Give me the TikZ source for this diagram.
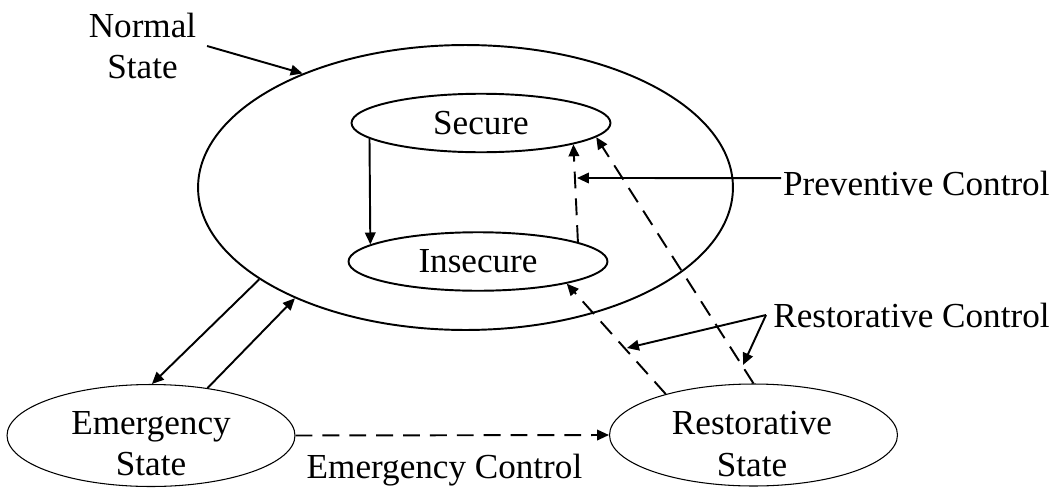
\documentclass[tikz,border=0pt]{standalone}
\usepackage{fontspec}
\setmainfont{Liberation Serif}
\usetikzlibrary{arrows.meta,shapes.geometric,positioning}
\newcommand{\diagfont}{\fontsize{20}{23.5}\selectfont}
\tikzset{
  % big normal-state ellipse
  bigstate/.style={ellipse, draw, line width=1.1pt, minimum width=10.7cm, minimum height=5.7cm, inner sep=0pt},
  % secure / insecure ellipse
  innerstate/.style={ellipse, draw, line width=1.1pt, minimum width=5.18cm, minimum height=1.17cm,
                     inner sep=0pt, font=\diagfont},
  % emergency / restorative ellipse (thin)
  outerstate/.style={ellipse, draw, line width=0.6pt, minimum width=5.76cm, minimum height=2.04cm, inner sep=0pt},
  % text label
  lbl/.style={font=\diagfont, align=center, inner sep=4pt},
  % solid arrow
  arr/.style={-{Triangle[length=6.8pt,width=6pt]}, line width=1.1pt},
  % dashed arrow
  dasharr/.style={arr, dash pattern=on 9.6pt off 5.7pt},
}

\begin{document}
\begin{tikzpicture}[x=0.02cm, y=-0.02cm]
  \useasboundingbox (0,0) rectangle (1064,490);

  % states
  \node[bigstate] (normal) at (465.5,187.5) {};
  \node[innerstate] (secure) at (481,123) {Secure};
  \node[innerstate] (insecure) at (478,261.5) {Insecure};
  \node[outerstate] (emerg) at (151,435.5) {};
  \node[outerstate] (restor) at (753.5,435) {};
  \node[lbl] (emergtxt) at (151,444) {Emergency\\State};
  \node[lbl] (restortxt) at (752,444) {Restorative\\State};

  % labels
  \node[lbl, inner sep=6pt] (normtxt) at (142.5,46) {Normal\\State};
  \node[lbl, anchor=west, inner sep=1pt] (prevtxt) at (781,183) {Preventive Control};
  \node[lbl, anchor=west] (restctrl) at (766,315) {Restorative Control};
  \node[lbl] (emctrl) at (444.5,470) {Emergency Control};

  % arrow ends on the dashed lines
  \coordinate (pvtip) at (577,178);
  \coordinate (rctipA) at (627,348);
  \coordinate (rctipB) at (743,365);

  % solid transitions
  \draw[arr] (secure.188.4) -- (insecure.171.2);
  \draw[arr] (normtxt.east) -- (normal.145.3);
  \draw[arr] (normal.204.9) -- (emerg.89);
  \draw[arr] (emerg.40.4) -- (normal.213.7);

  % controls
  \draw[dasharr] (insecure.11.8) -- (secure.-13.2);
  \draw[dasharr] (restor.90) -- (secure.-7);
  \draw[dasharr] (restor.155) -- (insecure.-14.3);
  \draw[dasharr] (emerg.east) -- (restor.west);

  % control labels
  \draw[arr] ([yshift=2.8pt]prevtxt.west) -- (pvtip);
  \draw[arr] (restctrl.west) -- (rctipA);
  \draw[arr] (restctrl.west) -- (rctipB);
\end{tikzpicture}
\end{document}
